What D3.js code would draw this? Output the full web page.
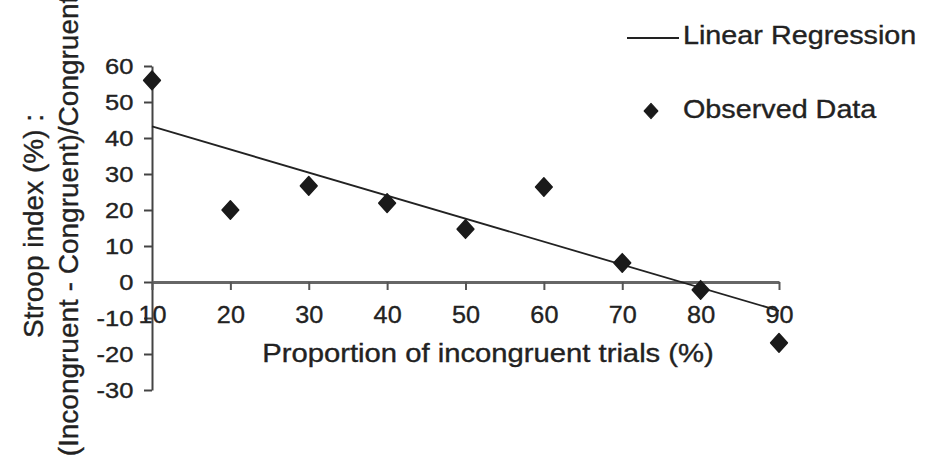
<!DOCTYPE html>
<html>
<head>
<meta charset="utf-8">
<script src="https://cdn.jsdelivr.net/npm/d3@7"></script>
<style>
  body { margin: 0; background: #fff; }
  text { font-family: "Liberation Sans", Arial, sans-serif; fill: #222; stroke: #222; stroke-width: 0.35px; }
</style>
</head>
<body>
<div id="container"></div>
<script>
  // data
  const proportions = [10, 20, 30, 40, 50, 60, 70, 80, 90];
  const stroopIndex = [56, 20, 26.7, 21.9, 14.7, 26.4, 5.3, -2.2, -16.9];
  const regressionX = [10, 90];
  const regressionY = [43.2, -8];
  const xTicks = [10, 20, 30, 40, 50, 60, 70, 80, 90];
  const yTicks = [-30, -20, -10, 0, 10, 20, 30, 40, 50, 60];

  const width = 933;
  const height = 461;

  const svg = d3.create("svg")
    .attr("width", width)
    .attr("height", height);

  const x = d3.scaleLinear().domain([10, 90]).range([152, 779]);
  const y = d3.scaleLinear().domain([-30, 60]).range([390, 66]);

  // plain hyphen for negatives, like the scan
  const fmt = d => String(d);

  // y axis
  const yAxis = svg.append("g")
    .attr("transform", `translate(${x(10)},0)`)
    .call(d3.axisLeft(y).tickValues(yTicks).tickFormat(fmt).tickSize(8).tickPadding(8).tickSizeOuter(0));
  yAxis.select(".domain").attr("stroke", "#444").attr("stroke-width", 2);
  yAxis.selectAll(".tick line").attr("stroke", "#444").attr("stroke-width", 2);
  yAxis.selectAll(".tick text")
    .attr("font-size", 22)
    .attr("font-family", null)
    .attr("fill", null)
    .attr("transform", "scale(1.16,1)");

  // x axis on the zero line
  const xAxis = svg.append("g")
    .attr("transform", `translate(0,${y(0)})`)
    .call(d3.axisBottom(x).tickValues(xTicks).tickFormat(fmt).tickSize(8).tickPadding(16).tickSizeOuter(0));
  xAxis.select(".domain").attr("stroke", "#666").attr("stroke-width", 3);
  xAxis.selectAll(".tick line").attr("stroke", "#555").attr("stroke-width", 2);
  xAxis.selectAll(".tick text")
    .attr("font-size", 24)
    .attr("font-family", null)
    .attr("fill", null)
    .attr("transform", "scale(1.05,1)");

  // regression line
  const line = d3.line()
    .x(d => x(d[0]))
    .y(d => y(d[1]));
  svg.append("path")
    .datum(d3.zip(regressionX, regressionY))
    .attr("d", line)
    .attr("fill", "none")
    .attr("stroke", "#222")
    .attr("stroke-width", 1.8);

  // observed points
  const diamond = d3.symbol().type(d3.symbolSquare).size(140);
  svg.append("g")
    .selectAll("path")
    .data(d3.zip(proportions, stroopIndex))
    .join("path")
    .attr("d", diamond)
    .attr("transform", d => `translate(${x(d[0])},${y(d[1])}) scale(1,1.1) rotate(45)`)
    .attr("fill", "#1a1a1a")
    .attr("stroke", "#1a1a1a")
    .attr("stroke-linejoin", "round")
    .attr("stroke-width", 1.5);

  // x axis title
  svg.append("text")
    .attr("transform", "translate(488,362) scale(1.17,1)")
    .attr("text-anchor", "middle")
    .attr("font-size", 25)
    .text("Proportion of incongruent trials (%)");

  // y axis title, two lines (the second runs off the top, as in the scan)
  svg.append("text")
    .attr("transform", "translate(43,226) rotate(-90)")
    .attr("text-anchor", "middle")
    .attr("font-size", 28)
    .text("Stroop index (%) :");
  svg.append("text")
    .attr("transform", "translate(78,226) rotate(-90)")
    .attr("text-anchor", "middle")
    .attr("font-size", 28)
    .text("(Incongruent - Congruent)/Congruent");

  // legend
  const legend = svg.append("g");
  legend.append("line")
    .attr("x1", 627).attr("x2", 679)
    .attr("y1", 38).attr("y2", 38)
    .attr("stroke", "#222")
    .attr("stroke-width", 1.8);
  legend.append("text")
    .attr("transform", "translate(683,44) scale(1.15,1)")
    .attr("font-size", 25)
    .text("Linear Regression");
  legend.append("path")
    .attr("d", d3.symbol().type(d3.symbolSquare).size(95))
    .attr("transform", "translate(651,111) scale(1,1.1) rotate(45)")
    .attr("fill", "#1a1a1a")
    .attr("stroke", "#1a1a1a")
    .attr("stroke-linejoin", "round")
    .attr("stroke-width", 1);
  legend.append("text")
    .attr("transform", "translate(683,118) scale(1.15,1)")
    .attr("font-size", 25)
    .text("Observed Data");

  container.appendChild(svg.node());
</script>
</body>
</html>
